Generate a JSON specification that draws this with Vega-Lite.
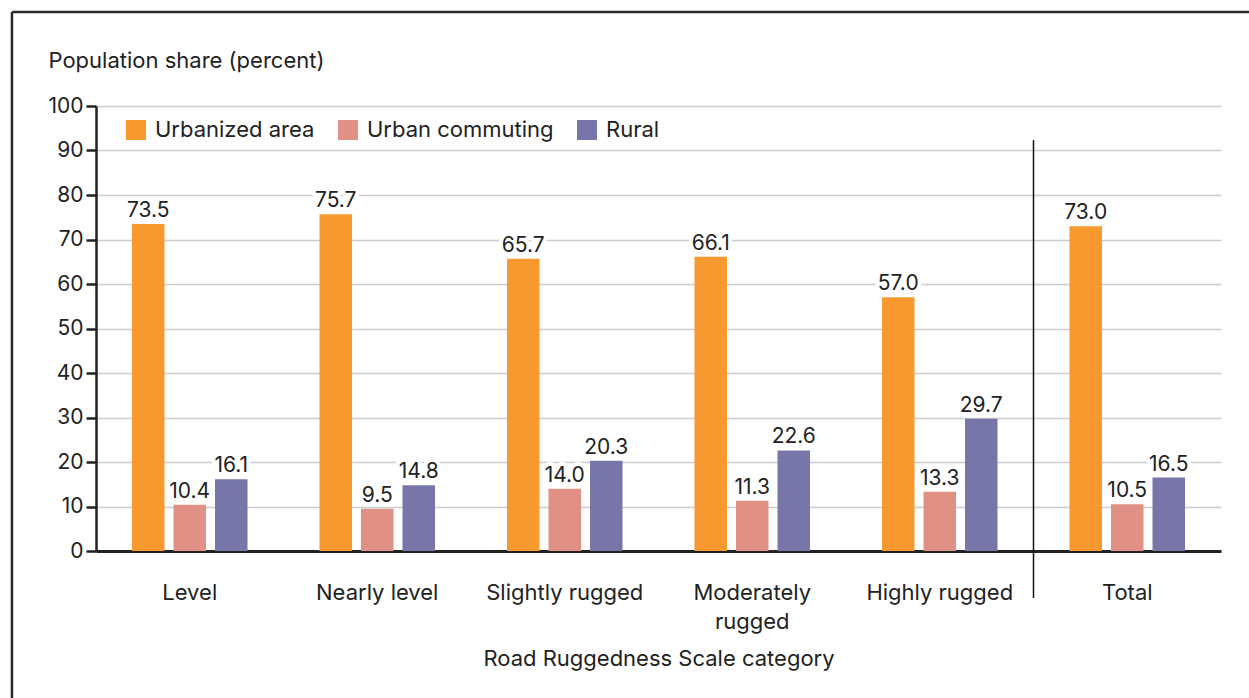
{
  "$schema": "https://vega.github.io/schema/vega-lite/v6.json",
  "width": 1125,
  "height": 445,
  "autosize": {"type": "none"},
  "padding": {"left": 96, "top": 106, "right": 28, "bottom": 147},
  "background": "white",
  "config": {
    "font": "Inter",
    "view": {"stroke": null},
    "text": {"font": "Inter"}
  },
  "data": {
    "values": [
      {"cat": "Level", "series": "Urbanized area", "value": 73.5},
      {"cat": "Level", "series": "Urban commuting", "value": 10.4},
      {"cat": "Level", "series": "Rural", "value": 16.1},
      {"cat": "Nearly level", "series": "Urbanized area", "value": 75.7},
      {"cat": "Nearly level", "series": "Urban commuting", "value": 9.5},
      {"cat": "Nearly level", "series": "Rural", "value": 14.8},
      {"cat": "Slightly rugged", "series": "Urbanized area", "value": 65.7},
      {"cat": "Slightly rugged", "series": "Urban commuting", "value": 14.0},
      {"cat": "Slightly rugged", "series": "Rural", "value": 20.3},
      {"cat": "Moderately rugged", "series": "Urbanized area", "value": 66.1},
      {"cat": "Moderately rugged", "series": "Urban commuting", "value": 11.3},
      {"cat": "Moderately rugged", "series": "Rural", "value": 22.6},
      {"cat": "Highly rugged", "series": "Urbanized area", "value": 57.0},
      {"cat": "Highly rugged", "series": "Urban commuting", "value": 13.3},
      {"cat": "Highly rugged", "series": "Rural", "value": 29.7},
      {"cat": "Total", "series": "Urbanized area", "value": 73.0},
      {"cat": "Total", "series": "Urban commuting", "value": 10.5},
      {"cat": "Total", "series": "Rural", "value": 16.5}
    ]
  },
  "layer": [
    {
      "encoding": {
        "x": {
          "field": "cat",
          "type": "nominal",
          "sort": ["Level", "Nearly level", "Slightly rugged", "Moderately rugged", "Highly rugged", "Total"],
          "scale": {
            "domain": ["Level", "Nearly level", "Slightly rugged", "Moderately rugged", "Highly rugged", "Total"],
            "paddingInner": 0,
            "paddingOuter": 0
          },
          "axis": {
            "title": "Road Ruggedness Scale category",
            "titleFontSize": 22,
            "titleFontWeight": "normal",
            "titleColor": "#222222",
            "titlePadding": 16,
            "labelAngle": 0,
            "labelFontSize": 22,
            "labelColor": "#222222",
            "labelPadding": 31,
            "labelLineHeight": 29,
            "labelLimit": 300,
            "labelExpr": "datum.label == 'Moderately rugged' ? ['Moderately', 'rugged'] : datum.label",
            "ticks": false,
            "tickSize": 0,
            "domainColor": "#222222",
            "domainWidth": 3
          }
        },
        "y": {
          "field": "value",
          "type": "quantitative",
          "scale": {"domain": [0, 100], "nice": false},
          "axis": {
            "values": [0, 10, 20, 30, 40, 50, 60, 70, 80, 90, 100],
            "title": "Population share (percent)",
            "titleAngle": 0,
            "titleAlign": "left",
            "titleBaseline": "middle",
            "titleX": -48,
            "titleY": -46,
            "titleFontSize": 22,
            "titleFontWeight": "normal",
            "titleColor": "#222222",
            "labelFontSize": 21,
            "labelColor": "#222222",
            "labelPadding": 3,
            "tickSize": 10,
            "tickWidth": 2.5,
            "tickColor": "#222222",
            "domainColor": "#222222",
            "domainWidth": 2.5,
            "grid": true,
            "gridColor": "#cccccc",
            "gridWidth": 1.5
          }
        }
      },
      "layer": [
        {
          "mark": {"type": "bar"},
          "encoding": {
            "xOffset": {
              "field": "series",
              "type": "nominal",
              "sort": ["Urbanized area", "Urban commuting", "Rural"],
              "scale": {"paddingInner": 0.217, "paddingOuter": 0.867}
            },
            "color": {
              "field": "series",
              "type": "nominal",
              "sort": ["Urbanized area", "Urban commuting", "Rural"],
              "scale": {
                "domain": ["Urbanized area", "Urban commuting", "Rural"],
                "range": ["#F7992F", "#E09084", "#7876A9"]
              },
              "legend": {
                "title": null,
                "orient": "none",
                "direction": "horizontal",
                "legendX": 29,
                "legendY": 13,
                "symbolType": "square",
                "symbolSize": 400,
                "symbolStrokeWidth": 0,
                "symbolOpacity": 1,
                "labelFontSize": 22,
                "labelColor": "#222222",
                "labelOffset": 8,
                "labelLimit": 400,
                "columnPadding": 22,
                "fillColor": "white"
              }
            }
          }
        },
        {
          "mark": {"type": "text", "baseline": "bottom", "dy": -3, "fontSize": 21, "stroke": "white", "strokeWidth": 8, "strokeJoin": "round", "fill": "white"},
          "encoding": {
            "xOffset": {"field": "series", "type": "nominal", "sort": ["Urbanized area", "Urban commuting", "Rural"]},
            "text": {"field": "value", "type": "quantitative", "format": ".1f"}
          }
        },
        {
          "mark": {"type": "text", "baseline": "bottom", "dy": -3, "fontSize": 21, "fill": "#222222"},
          "encoding": {
            "xOffset": {"field": "series", "type": "nominal", "sort": ["Urbanized area", "Urban commuting", "Rural"]},
            "text": {"field": "value", "type": "quantitative", "format": ".1f"}
          }
        },
        {
          "data": {"values": [{"cat": "Total", "top": 92.36, "bottom": -10.56}]},
          "mark": {"type": "rule", "color": "#111111", "strokeWidth": 1.5},
          "encoding": {
            "x": {"field": "cat", "type": "nominal", "bandPosition": 0},
            "y": {"field": "top", "type": "quantitative"},
            "y2": {"field": "bottom"}
          }
        }
      ]
    },
    {
      "data": {"values": [{"x1": -0.0747, "x2": 1.04, "ytop": 121.1, "ybottom": -40}]},
      "layer": [
        {
          "mark": {"type": "rule", "color": "#2a2a2a", "strokeWidth": 2.5},
          "encoding": {
            "x": {"field": "x1", "type": "quantitative", "scale": {"domain": [0, 1], "nice": false, "zero": false}, "axis": null},
            "x2": {"field": "x2"},
            "y": {"field": "ytop", "type": "quantitative", "scale": {"domain": [0, 100], "nice": false}}
          }
        },
        {
          "mark": {"type": "rule", "color": "#2a2a2a", "strokeWidth": 2.5},
          "encoding": {
            "x": {"field": "x1", "type": "quantitative", "scale": {"domain": [0, 1], "nice": false, "zero": false}, "axis": null},
            "y": {"field": "ytop", "type": "quantitative", "scale": {"domain": [0, 100], "nice": false}},
            "y2": {"field": "ybottom"}
          }
        }
      ]
    }
  ],
  "resolve": {"scale": {"x": "independent"}}
}
